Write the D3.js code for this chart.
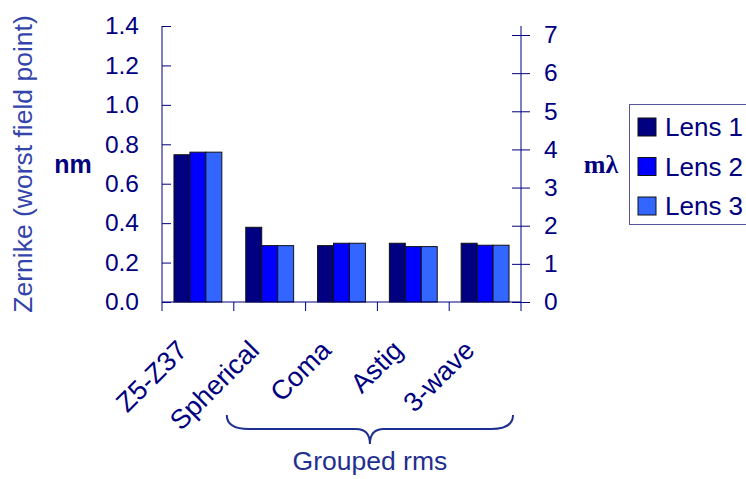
<!DOCTYPE html>
<html>
<head>
<meta charset="utf-8">
<script src="https://cdn.jsdelivr.net/npm/d3@7"></script>
<style>
  body { margin: 0; background: #fff; }
  text { font-family: "Liberation Sans", Arial, sans-serif; }
</style>
</head>
<body>
<svg id="chart" width="746" height="479"></svg>
<script>
const categories = ["Z5-Z37", "Spherical", "Coma", "Astig", "3-wave"];
const series = ["Lens 1", "Lens 2", "Lens 3"];
const lens1 = [0.747, 0.379, 0.286, 0.298, 0.298];
const lens2 = [0.760, 0.286, 0.298, 0.281, 0.288];
const lens3 = [0.760, 0.286, 0.298, 0.281, 0.288];
const leftTicks = [0, 0.2, 0.4, 0.6, 0.8, 1.0, 1.2, 1.4];
const rightTicks = [0, 1, 2, 3, 4, 5, 6, 7];

const colors = ["#000080", "#0000ff", "#3366ff"];
const navy = "#000080";
const values = [lens1, lens2, lens3];

const svg = d3.select("#chart");
const plotL = 162, plotR = 521, plotT = 26, plotB = 302;

const x0 = d3.scaleBand().domain(categories).range([plotL, plotR]);
const x1 = d3.scaleBand().domain(series).range([0, x0.bandwidth()]).paddingOuter(0.75);
const y = d3.scaleLinear().domain([0, 1.4]).range([plotB, plotT]);
// the right (mλ) axis tops out a little lower than the nm axis
const y2 = d3.scaleLinear().domain([0, 7]).range([plotB, 35]);

// bars
series.forEach((s, si) => {
  svg.append("g").selectAll("rect")
    .data(categories)
    .enter()
    .append("rect")
    .attr("x", d => x0(d) + x1(s))
    .attr("y", (d, i) => y(values[si][i]))
    .attr("width", x1.bandwidth())
    .attr("height", (d, i) => plotB - y(values[si][i]))
    .attr("fill", colors[si])
    .attr("stroke", "#111")
    .attr("stroke-width", 1);
});

// left axis
const gl = svg.append("g").attr("transform", `translate(${plotL},0)`)
  .call(d3.axisLeft(y).tickValues(leftTicks).tickFormat(d3.format(".1f")).tickSizeInner(9).tickSizeOuter(0).tickPadding(14));
gl.selectAll(".tick line").attr("x2", 9);
gl.select(".domain").attr("d", `M0,${plotT}V${plotB + 9}`);

// right axis
const gr = svg.append("g").attr("transform", `translate(${plotR},0)`)
  .call(d3.axisRight(y2).tickValues(rightTicks).tickFormat(d3.format("d")).tickSizeInner(9).tickSizeOuter(0).tickPadding(14));
gr.selectAll(".tick line").attr("x1", -9);
gr.select(".domain").attr("d", `M0,${plotT}V${plotB + 9}`);

// x axis
const gx = svg.append("g").attr("transform", `translate(0,${plotB})`);
gx.append("line").attr("x1", plotL).attr("x2", plotR).attr("stroke", navy);
gx.selectAll(".sep")
  .data(categories.slice(1))
  .enter()
  .append("line")
  .attr("x1", d => x0(d)).attr("x2", d => x0(d))
  .attr("y1", 0).attr("y2", 9)
  .attr("stroke", navy);

[gl, gr].forEach(g => {
  g.selectAll("path, line").attr("stroke", navy);
  g.selectAll("text").attr("fill", navy).style("font-size", "24.5px")
    .style("font-family", "'Liberation Sans', Arial, sans-serif");
});

// category labels
svg.append("g").selectAll("text")
  .data(categories)
  .enter()
  .append("text")
  .attr("transform", d => `translate(${x0(d) + x0.bandwidth() / 2 - 9},352) rotate(-45)`)
  .attr("text-anchor", "end")
  .attr("fill", navy)
  .style("font-size", "27px")
  .text(d => d);

// unit labels
svg.append("text").attr("x", 73).attr("y", 173).attr("text-anchor", "middle")
  .attr("fill", navy).style("font-size", "25px").style("font-weight", "bold").text("nm");
svg.append("text").attr("x", 601).attr("y", 173).attr("text-anchor", "middle")
  .attr("fill", navy).style("font-size", "26px").style("font-weight", "bold")
  .style("font-family", "'Liberation Serif', 'Times New Roman', serif").text("mλ");

// y title
svg.append("text")
  .attr("transform", `translate(32,164) rotate(-90)`)
  .attr("text-anchor", "middle")
  .attr("fill", "#3344aa")
  .style("font-size", "26.5px")
  .text("Zernike (worst field point)");

// brace for grouped rms
const bx1 = x0("Spherical") - 7, bx2 = plotR - 8, bTop = 415, bMid = 429, bTip = 444;
const bc = (bx1 + bx2) / 2;
svg.append("path")
  .attr("d", `M${bx1},${bTop} Q${bx1},${bMid} ${bx1 + 22},${bMid} L${bc - 14},${bMid} Q${bc},${bMid} ${bc},${bTip} Q${bc},${bMid} ${bc + 14},${bMid} L${bx2 - 22},${bMid} Q${bx2},${bMid} ${bx2},${bTop}`)
  .attr("fill", "none")
  .attr("stroke", "#1f2f90")
  .attr("stroke-width", 2);
svg.append("text").attr("x", bc).attr("y", 470).attr("text-anchor", "middle")
  .attr("fill", "#1f2f90").style("font-size", "26.5px").text("Grouped rms");

// legend
const lg = svg.append("g");
lg.append("rect").attr("x", 629.5).attr("y", 104.5).attr("width", 130).attr("height", 120)
  .attr("fill", "#fff").attr("stroke", "#5555a0").attr("stroke-width", 1);
series.forEach((s, i) => {
  const yy = 118 + i * 39.5;
  lg.append("rect").attr("x", 638).attr("y", yy).attr("width", 18).attr("height", 18)
    .attr("fill", colors[i]).attr("stroke", "#111");
  lg.append("text").attr("x", 665).attr("y", yy + 18).attr("fill", navy)
    .style("font-size", "26px").text(s);
});
</script>
</body>
</html>
